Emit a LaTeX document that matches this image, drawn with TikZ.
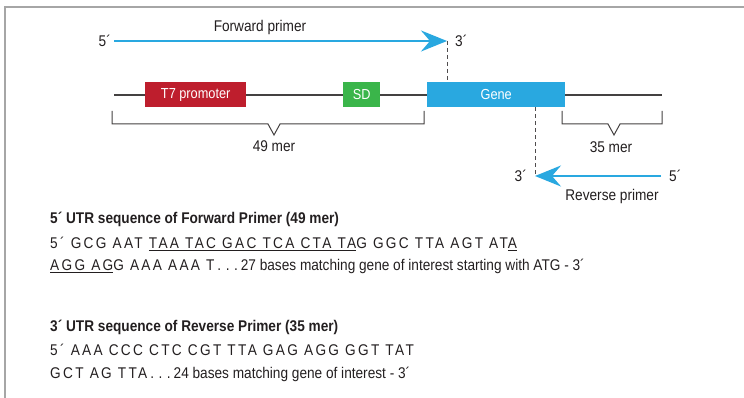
\documentclass[tikz,border=0pt]{standalone}
\usepackage{fontspec}
\setmainfont[FakeStretch=0.88]{Liberation Sans}
\newfontfamily\seqfont[FakeStretch=0.88,LetterSpace=15]{Liberation Sans}
\usetikzlibrary{arrows.meta}
\definecolor{pblue}{HTML}{29A8E0}
\definecolor{pred}{HTML}{BE1E2D}
\definecolor{pgreen}{HTML}{3AB54A}
\definecolor{framegray}{HTML}{A6A6A6}
\definecolor{ink}{HTML}{231F20}
\tikzset{
  lbl/.style={font=\fontsize{15.5}{18}\selectfont, text=ink, inner sep=0pt},
  boxnode/.style={font=\fontsize{14.5}{16}\selectfont, text=white, inner sep=0pt,
    minimum height=25pt, anchor=north west},
  primer/.style={pblue, line width=2.2pt, -{Stealth[length=26pt,width=21pt,inset=9pt]}},
  dna/.style={draw=ink!85, line width=1.3pt},
  guide/.style={draw=ink!80, dash pattern=on 4pt off 3pt, line width=0.9pt},
  bracket/.style={draw=ink!85, line width=1pt},
  title/.style={font=\fontsize{15.5}{18}\selectfont\bfseries, text=ink, inner sep=0pt, anchor=base west},
  seqtext/.style={font=\fontsize{15.5}{18}\selectfont, text=ink, inner sep=0pt, anchor=base west},
  framed/.style={draw=framegray, line width=1.5pt}
}
\newcommand{\sq}[1]{{\seqfont #1}}
\newcommand{\tdots}{\hspace{3pt}.\hspace{4.5pt}.\hspace{4.5pt}.\hspace{3pt}}
\begin{document}
\begin{tikzpicture}[x=1pt,y=-1pt]
\useasboundingbox (0,0) rectangle (744,398);
% frame
\coordinate (fbl) at (5,400);
\coordinate (ftl) at (5,7);
\coordinate (ftr) at (746,7);
\draw[framed] (fbl) -- (ftl) -- (ftr);

% DNA line
\coordinate (dnaL) at (114,95);
\coordinate (dnaR) at (662,95);
\draw[dna] (dnaL) -- (dnaR);

% boxes
\node[boxnode, fill=pred, minimum width=101pt] (t7) at (145,82) {T7 promoter};
\node[boxnode, fill=pgreen, minimum width=37pt] (sd) at (343,82) {SD};
\node[boxnode, fill=pblue, minimum width=138pt] (gene) at (427,82) {Gene};

% forward primer
\coordinate (fS) at (114,41);
\coordinate (fE) at (447,41);
\draw[primer] (fS) -- (fE);
\node[lbl, anchor=base east] (f5) at (111,46.5) {5´};
\node[lbl, anchor=base west] (f3) at (455,46.5) {3´};
\node[lbl, anchor=base] (fwd) at (260,31.5) {Forward primer};
\draw[guide] (fE) -- (gene.north west -| fE);

% reverse primer
\coordinate (rS) at (661,176);
\coordinate (rE) at (535,176);
\draw[guide] (gene.south west -| rE) -- (rE);
\draw[primer] (rS) -- (rE);
\node[lbl, anchor=base east] (r3) at (527,181.5) {3´};
\node[lbl, anchor=base west] (r5) at (669,181.5) {5´};
\node[lbl, anchor=base] (rev) at (612,200.5) {Reverse primer};

% brackets
\coordinate (b1a) at (112,111);
\coordinate (b1b) at (424,111);
\coordinate (b1m) at (274,135);
\draw[bracket] (b1a) -- (112,124) -- (268,124) -- (b1m) -- (280,124) -- (424,124) -- (b1b);
\node[lbl, anchor=base] (m49) at (274,152) {49 mer};

\coordinate (b2a) at (562,111);
\coordinate (b2b) at (662,111);
\coordinate (b2m) at (614,135);
\draw[bracket] (b2a) -- (562,124) -- (608,124) -- (b2m) -- (620,124) -- (662,124) -- (b2b);
\node[lbl, anchor=base] (m35) at (611,153) {35 mer};

% sequences
\node[title] (t1) at (50,223.5) {5´ UTR sequence of Forward Primer (49 mer)};
\node[seqtext] (s1) at (50,248.5) {\sq{5´ GCG AAT \underline{TAA TAC GAC TCA CTA TA}G GGC TTA AGT AT\underline{A}}};
\node[seqtext] (s2) at (50,270.5) {\sq{\underline{AGG AG}G AAA AAA T}\tdots 27 bases matching gene of interest starting with ATG - 3´};

\node[title] (t2) at (50,331.5) {3´ UTR sequence of Reverse Primer (35 mer)};
\node[seqtext] (s3) at (50,355.5) {\sq{5´ AAA CCC CTC CGT TTA GAG AGG GGT TAT}};
\node[seqtext] (s4) at (50,378.5) {\sq{GCT AG TTA}\tdots 24 bases matching gene of interest - 3´};
\end{tikzpicture}
\end{document}
